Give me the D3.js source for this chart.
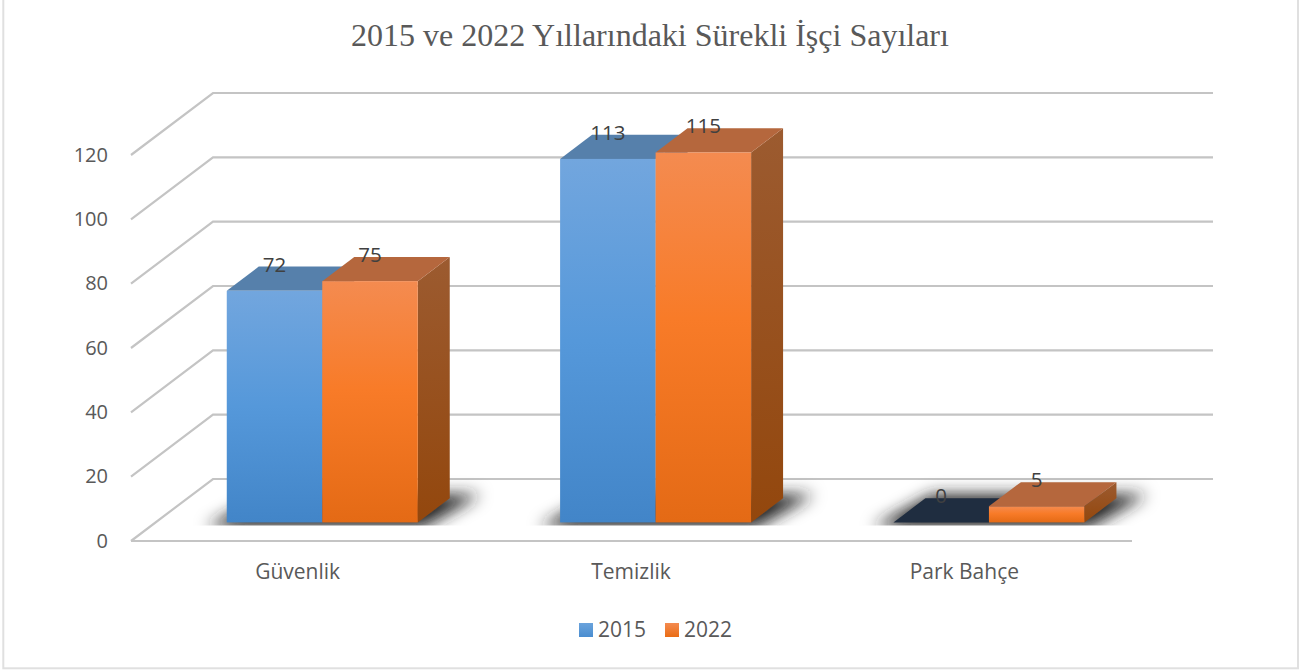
<!DOCTYPE html>
<html><head><meta charset="utf-8">
<script src="https://cdn.jsdelivr.net/npm/d3@7"></script>
<style>html,body{margin:0;padding:0;background:#fff;overflow:hidden}svg{display:block}</style>
</head><body><div id="c"></div>
<script>
const title = "2015 ve 2022 Yıllarındaki Sürekli İşçi Sayıları";
const categories = ["Güvenlik", "Temizlik", "Park Bahçe"];
const seriesNames = ["2015", "2022"];
const values2015 = [72, 113, 0];
const values2022 = [75, 115, 5];
const yTicks = [0, 20, 40, 60, 80, 100, 120];

const W = 1303, H = 670;
const svg = d3.select("#c").append("svg").attr("width", W).attr("height", H);
const defs = svg.append("defs");
const font = "'Open Sans', sans-serif";

// projection: depth t in 0..1 moves a floor point toward the back wall
const depthX = 82, depthY = 62;
const x0 = d3.scaleBand().domain(categories).range([131, 1131]);
const y = d3.scaleLinear().domain([0, 120]).range([541, 155]);
const barW = 95.5;
const x1 = d3.scaleBand().domain(seriesNames).range([-barW, barW]);
const tFront = 0.3, tBack = 0.69;
const P = (fx, val, t) => [fx + depthX * t, y(val) - depthY * t];
const poly = pts => pts.map(p => p.join(",")).join(" ");

function grad(id, x1g, y1g, x2g, y2g, stops) {
  const g = defs.append("linearGradient").attr("id", id)
    .attr("x1", x1g).attr("y1", y1g).attr("x2", x2g).attr("y2", y2g);
  stops.forEach(([o, c]) => g.append("stop").attr("offset", o).attr("stop-color", c));
}
grad("front2015", 0, 0, 0, 1, [[0, "#72a6de"], [0.5, "#5598da"], [1, "#4285c8"]]);
grad("front2022", 0, 0, 0, 1, [[0, "#f48b50"], [0.45, "#f87b28"], [1, "#e46a15"]]);
grad("side2015", 0, 0, 0, 1, [[0, "#4f7ba8"], [1, "#2f6296"]]);
grad("side2022", 0, 0, 0, 1, [[0, "#9c5b30"], [1, "#93470d"]]);
grad("legend2015", 0, 0, 0, 1, [[0, "#6aa3dc"], [1, "#4a8dd0"]]);
grad("legend2022", 0, 0, 0, 1, [[0, "#f48b50"], [1, "#ea6c14"]]);
const blur = defs.append("filter").attr("id", "blur")
  .attr("x", "-30%").attr("y", "-80%").attr("width", "160%").attr("height", "260%");
blur.append("feGaussianBlur").attr("stdDeviation", 8);
defs.append("clipPath").attr("id", "shadowClip").append("rect")
  .attr("x", 0).attr("y", 0).attr("width", W).attr("height", y(0) - depthY * tFront + 3);

// frame
svg.append("rect").attr("x", 3.3).attr("y", -3).attr("width", 1294.7).attr("height", 671.3)
  .attr("fill", "#fff").attr("stroke", "#e0e0e0").attr("stroke-width", 2);

// title
svg.append("text").attr("x", 650).attr("y", 46).attr("text-anchor", "middle")
  .attr("font-family", "'Liberation Serif', serif").attr("font-size", 32)
  .attr("fill", "#595959").text(title);

// gridlines: side wall + back wall
const grid = svg.append("g").attr("fill", "none").attr("stroke", "#c4c4c4").attr("stroke-width", 2.2);
const xL = x0.range()[0], xR = x0.range()[1];
grid.selectAll("polyline").data(yTicks).join("polyline")
  .attr("points", d => poly([P(xL, d, 0), P(xL, d, 1), P(xR, d, 1)]));
grid.append("line").attr("x1", xL).attr("x2", xR + 1).attr("y1", y(0)).attr("y2", y(0));

// y tick labels
svg.append("g").selectAll("text").data(yTicks).join("text")
  .attr("x", 108).attr("y", d => y(d) + 6.5).attr("text-anchor", "end")
  .attr("font-family", font).attr("font-size", 20).attr("fill", "#595959").text(d => d);

// category labels
svg.append("g").selectAll("text").data(categories).join("text")
  .attr("x", d => x0(d) + x0.bandwidth() / 2).attr("y", 579).attr("text-anchor", "middle")
  .attr("font-family", font).attr("font-size", 21).attr("fill", "#595959").text(d => d);

// bars
const rows = categories.map((c, i) => ({ c, bars: [
  { s: "2015", v: values2015[i] }, { s: "2022", v: values2022[i] } ] }));
const cx = c => x0(c) + x0.bandwidth() / 2;

// shadows
const sh = svg.append("g").attr("clip-path", "url(#shadowClip)");
rows.forEach(r => {
  const a = cx(r.c) + x1("2015"), b = cx(r.c) + x1("2022") + x1.bandwidth();
  sh.append("polygon").attr("filter", "url(#blur)").attr("fill", "#222")
    .attr("points", poly([P(a - 14, 0, tFront - 0.08), P(b + 12, 0, tFront - 0.08), P(b + 26, 0, tBack + 0.06), P(a + 2, 0, tBack + 0.06)]));
});

// draw order: 2015 then 2022 so the orange front overlaps the blue top
rows.forEach(r => r.bars.forEach(d => {
  const l = cx(r.c) + x1(d.s), rr = l + x1.bandwidth();
  const g = svg.append("g");
  if (d.v === 0) {
    g.append("polygon").attr("fill", "#1f2d40")
      .attr("points", poly([P(l, 0, tFront), P(rr, 0, tFront), P(rr, 0, tBack), P(l, 0, tBack)]));
    return;
  }
  const topC = d.s === "2015" ? "#5680ab" : "#b5673d";
  g.append("polygon").attr("fill", `url(#side${d.s})`)
    .attr("points", poly([P(rr, d.v, tFront), P(rr, d.v, tBack), P(rr, 0, tBack), P(rr, 0, tFront)]));
  g.append("polygon").attr("fill", topC)
    .attr("points", poly([P(l, d.v, tFront), P(rr, d.v, tFront), P(rr, d.v, tBack), P(l, d.v, tBack)]));
  const tl = P(l, d.v, tFront), br = P(rr, 0, tFront);
  g.append("rect").attr("x", tl[0]).attr("y", tl[1]).attr("width", br[0] - tl[0]).attr("height", br[1] - tl[1])
    .attr("fill", `url(#front${d.s})`);
}));

// data labels
rows.forEach(r => r.bars.forEach(d => {
  const l = cx(r.c) + x1(d.s);
  const p = P(l + x1.bandwidth() / 2, d.v, tFront);
  svg.append("text").attr("x", p[0]).attr("y", p[1] - 19).attr("text-anchor", "middle")
    .attr("font-family", font).attr("font-size", 20.5).attr("fill", "#404040").text(d.v);
}));

// legend
const legendX = d3.scaleOrdinal().domain(seriesNames).range([579, 665]);
const lg = svg.append("g").selectAll("g").data(seriesNames).join("g")
  .attr("transform", d => `translate(${legendX(d)},623)`);
lg.append("rect").attr("width", 14).attr("height", 14).attr("fill", d => `url(#legend${d})`);
lg.append("text").attr("x", 19).attr("y", 14).attr("font-family", font).attr("font-size", 21)
  .attr("fill", "#595959").text(d => d);
</script></body></html>
